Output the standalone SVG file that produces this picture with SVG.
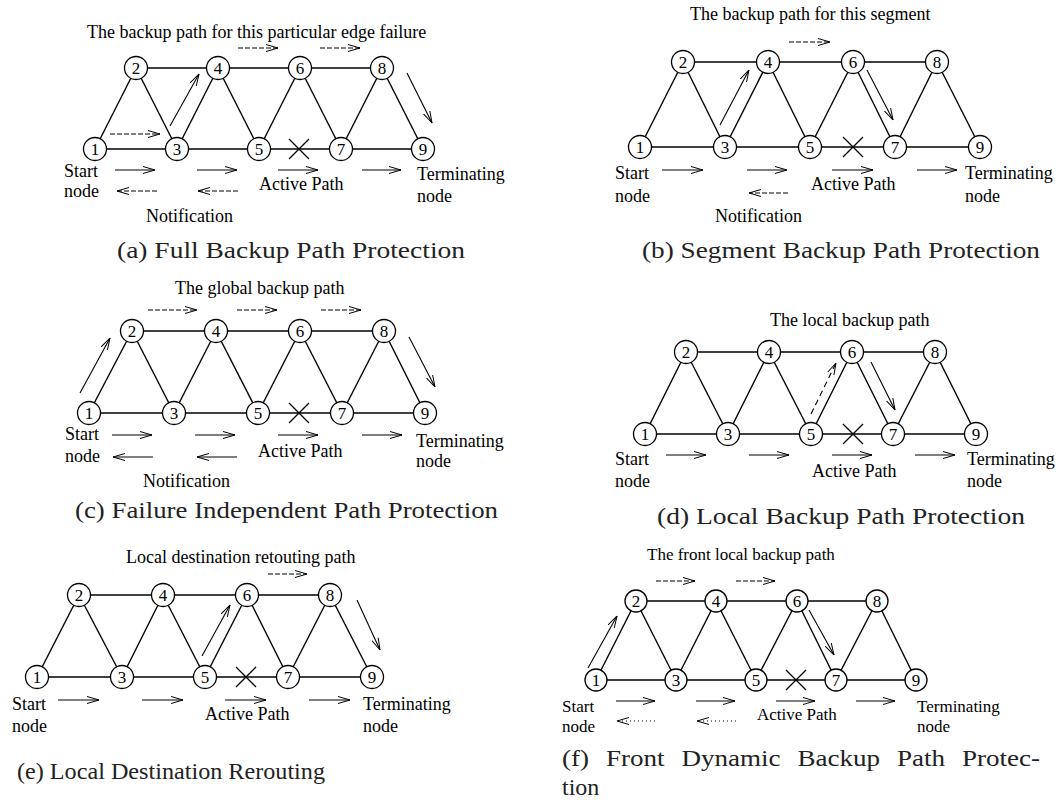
<svg xmlns="http://www.w3.org/2000/svg" width="1062" height="802" viewBox="0 0 1062 802">
<style>
.e line{stroke:#000;stroke-width:1.4}
.n circle{fill:#fff;stroke:#000;stroke-width:1.3}
.n text{font-family:"Liberation Serif",serif;font-size:17px;text-anchor:middle;fill:#000}
.a{stroke:#000;stroke-width:1.1;fill:none;marker-end:url(#ah)}
.d{stroke-dasharray:5 2}
.dl{stroke-dasharray:6 4}
.dt{stroke-dasharray:1 3}
.x{stroke:#000;stroke-width:1.3}
.lb{font-family:"Liberation Serif",serif;font-size:18px;fill:#000}
.lf{font-family:"Liberation Serif",serif;font-size:17px;fill:#000}
.cap{font-family:"Liberation Serif",serif;font-size:24px;fill:#222}
</style>
<defs>
<marker id="ah" viewBox="0 0 12 8" refX="12" refY="4" markerWidth="12" markerHeight="8" orient="auto" markerUnits="userSpaceOnUse">
<path d="M0,0.5 L12,4 L0,7.5" fill="none" stroke="#000" stroke-width="1" stroke-dasharray="none"/>
</marker>
</defs>

<!-- ===== Panel (a) ===== -->
<g id="panel-a">
<g id="a-edges" class="e">
<line x1="95" y1="149" x2="177" y2="149"/><line x1="177" y1="149" x2="259" y2="149"/><line x1="259" y1="149" x2="341" y2="149"/><line x1="341" y1="149" x2="423" y2="149"/>
<line x1="136" y1="68" x2="218" y2="68"/><line x1="218" y1="68" x2="300" y2="68"/><line x1="300" y1="68" x2="382" y2="68"/>
<line x1="95" y1="149" x2="136" y2="68"/><line x1="136" y1="68" x2="177" y2="149"/><line x1="177" y1="149" x2="218" y2="68"/><line x1="218" y1="68" x2="259" y2="149"/><line x1="259" y1="149" x2="300" y2="68"/><line x1="300" y1="68" x2="341" y2="149"/><line x1="341" y1="149" x2="382" y2="68"/><line x1="382" y1="68" x2="423" y2="149"/>
</g>
<g id="a-arrows">
<line class="a d" x1="238" y1="48" x2="278" y2="48"/><line class="a d" x1="320" y1="48" x2="360" y2="48"/>
<line class="a d" x1="110" y1="134" x2="160" y2="134"/>
<line class="a" x1="170" y1="126" x2="199" y2="74"/>
<line class="a" x1="407" y1="73" x2="432" y2="123"/>
<line class="a" x1="115" y1="170" x2="155" y2="170"/><line class="a" x1="197" y1="170" x2="237" y2="170"/><line class="a" x1="278" y1="170" x2="318" y2="170"/><line class="a" x1="362" y1="170" x2="401" y2="170"/>
<line class="a d" x1="157" y1="191" x2="117" y2="191"/><line class="a d" x1="238" y1="191" x2="198" y2="191"/>
<path class="x" d="M289,139 L309,159 M309,139 L289,159"/>
</g>
<g id="a-n1" class="n"><circle cx="95" cy="149" r="11.5"/><text x="95" y="155">1</text></g>
<g id="a-n2" class="n"><circle cx="136" cy="68" r="11.5"/><text x="136" y="74">2</text></g>
<g id="a-n3" class="n"><circle cx="177" cy="149" r="11.5"/><text x="177" y="155">3</text></g>
<g id="a-n4" class="n"><circle cx="218" cy="68" r="11.5"/><text x="218" y="74">4</text></g>
<g id="a-n5" class="n"><circle cx="259" cy="149" r="11.5"/><text x="259" y="155">5</text></g>
<g id="a-n6" class="n"><circle cx="300" cy="68" r="11.5"/><text x="300" y="74">6</text></g>
<g id="a-n7" class="n"><circle cx="341" cy="149" r="11.5"/><text x="341" y="155">7</text></g>
<g id="a-n8" class="n"><circle cx="382" cy="68" r="11.5"/><text x="382" y="74">8</text></g>
<g id="a-n9" class="n"><circle cx="423" cy="149" r="11.5"/><text x="423" y="155">9</text></g>
<text class="lb" x="87" y="38">The backup path for this particular edge failure</text>
<text class="lb" x="64" y="177">Start</text><text class="lb" x="64" y="197">node</text>
<text class="lb" x="259" y="190">Active Path</text>
<text class="lb" x="417" y="180">Terminating</text><text class="lb" x="417" y="202">node</text>
<text class="lb" x="146" y="222">Notification</text>
<text class="cap" x="117" y="258" textLength="348" lengthAdjust="spacingAndGlyphs">(a) Full Backup Path Protection</text>
</g>

<!-- ===== Panel (b) ===== -->
<g id="panel-b">
<g id="b-edges" class="e">
<line x1="640" y1="147" x2="725" y2="147"/><line x1="725" y1="147" x2="810" y2="147"/><line x1="810" y1="147" x2="895" y2="147"/><line x1="895" y1="147" x2="980" y2="147"/>
<line x1="683" y1="62" x2="768" y2="62"/><line x1="768" y1="62" x2="853" y2="62"/><line x1="853" y1="62" x2="937" y2="62"/>
<line x1="640" y1="147" x2="683" y2="62"/><line x1="683" y1="62" x2="725" y2="147"/><line x1="725" y1="147" x2="768" y2="62"/><line x1="768" y1="62" x2="810" y2="147"/><line x1="810" y1="147" x2="853" y2="62"/><line x1="853" y1="62" x2="895" y2="147"/><line x1="895" y1="147" x2="937" y2="62"/><line x1="937" y1="62" x2="980" y2="147"/>
</g>
<g id="b-arrows">
<line class="a d" x1="789" y1="42" x2="830" y2="42"/>
<line class="a" x1="720" y1="125" x2="749" y2="70"/>
<line class="a" x1="867" y1="70" x2="893" y2="120"/>
<line class="a" x1="662" y1="170" x2="703" y2="170"/><line class="a" x1="747" y1="170" x2="787" y2="170"/><line class="a" x1="832" y1="170" x2="873" y2="170"/><line class="a" x1="917" y1="170" x2="957" y2="170"/>
<line class="a d" x1="788" y1="193" x2="749" y2="193"/>
<path class="x" d="M843,137 L863,157 M863,137 L843,157"/>
</g>
<g id="b-n1" class="n"><circle cx="640" cy="147" r="11.5"/><text x="640" y="153">1</text></g>
<g id="b-n2" class="n"><circle cx="683" cy="62" r="11.5"/><text x="683" y="68">2</text></g>
<g id="b-n3" class="n"><circle cx="725" cy="147" r="11.5"/><text x="725" y="153">3</text></g>
<g id="b-n4" class="n"><circle cx="768" cy="62" r="11.5"/><text x="768" y="68">4</text></g>
<g id="b-n5" class="n"><circle cx="810" cy="147" r="11.5"/><text x="810" y="153">5</text></g>
<g id="b-n6" class="n"><circle cx="853" cy="62" r="11.5"/><text x="853" y="68">6</text></g>
<g id="b-n7" class="n"><circle cx="895" cy="147" r="11.5"/><text x="895" y="153">7</text></g>
<g id="b-n8" class="n"><circle cx="937" cy="62" r="11.5"/><text x="937" y="68">8</text></g>
<g id="b-n9" class="n"><circle cx="980" cy="147" r="11.5"/><text x="980" y="153">9</text></g>
<text class="lb" x="690" y="20">The backup path for this segment</text>
<text class="lb" x="615" y="179">Start</text><text class="lb" x="615" y="202">node</text>
<text class="lb" x="811" y="190">Active Path</text>
<text class="lb" x="965" y="179">Terminating</text><text class="lb" x="965" y="202">node</text>
<text class="lb" x="715" y="222">Notification</text>
<text class="cap" x="642" y="258" textLength="398" lengthAdjust="spacingAndGlyphs">(b) Segment Backup Path Protection</text>
</g>

<!-- ===== Panel (c) ===== -->
<g id="panel-c">
<g id="c-edges" class="e">
<line x1="89" y1="413" x2="174" y2="413"/><line x1="174" y1="413" x2="258" y2="413"/><line x1="258" y1="413" x2="342" y2="413"/><line x1="342" y1="413" x2="425" y2="413"/>
<line x1="132" y1="331" x2="216" y2="331"/><line x1="216" y1="331" x2="300" y2="331"/><line x1="300" y1="331" x2="384" y2="331"/>
<line x1="89" y1="413" x2="132" y2="331"/><line x1="132" y1="331" x2="174" y2="413"/><line x1="174" y1="413" x2="216" y2="331"/><line x1="216" y1="331" x2="258" y2="413"/><line x1="258" y1="413" x2="300" y2="331"/><line x1="300" y1="331" x2="342" y2="413"/><line x1="342" y1="413" x2="384" y2="331"/><line x1="384" y1="331" x2="425" y2="413"/>
</g>
<g id="c-arrows">
<line class="a d" x1="148" y1="310" x2="197" y2="310"/><line class="a d" x1="237" y1="310" x2="277" y2="310"/><line class="a d" x1="321" y1="310" x2="361" y2="310"/>
<line class="a" x1="80" y1="393" x2="110" y2="338"/>
<line class="a" x1="409" y1="337" x2="435" y2="387"/>
<line class="a" x1="112" y1="435" x2="152" y2="435"/><line class="a" x1="195" y1="435" x2="235" y2="435"/><line class="a" x1="278" y1="435" x2="318" y2="435"/><line class="a" x1="362" y1="435" x2="402" y2="435"/>
<line class="a" x1="153" y1="457" x2="113" y2="457"/><line class="a" x1="237" y1="457" x2="197" y2="457"/>
<path class="x" d="M289,403 L309,423 M309,403 L289,423"/>
</g>
<g id="c-n1" class="n"><circle cx="89" cy="413" r="11.5"/><text x="89" y="419">1</text></g>
<g id="c-n2" class="n"><circle cx="132" cy="331" r="11.5"/><text x="132" y="337">2</text></g>
<g id="c-n3" class="n"><circle cx="174" cy="413" r="11.5"/><text x="174" y="419">3</text></g>
<g id="c-n4" class="n"><circle cx="216" cy="331" r="11.5"/><text x="216" y="337">4</text></g>
<g id="c-n5" class="n"><circle cx="258" cy="413" r="11.5"/><text x="258" y="419">5</text></g>
<g id="c-n6" class="n"><circle cx="300" cy="331" r="11.5"/><text x="300" y="337">6</text></g>
<g id="c-n7" class="n"><circle cx="342" cy="413" r="11.5"/><text x="342" y="419">7</text></g>
<g id="c-n8" class="n"><circle cx="384" cy="331" r="11.5"/><text x="384" y="337">8</text></g>
<g id="c-n9" class="n"><circle cx="425" cy="413" r="11.5"/><text x="425" y="419">9</text></g>
<text class="lb" x="175" y="294">The global backup path</text>
<text class="lb" x="65" y="440">Start</text><text class="lb" x="65" y="462">node</text>
<text class="lb" x="258" y="457">Active Path</text>
<text class="lb" x="416" y="447">Terminating</text><text class="lb" x="416" y="467">node</text>
<text class="lb" x="143" y="487">Notification</text>
<text class="cap" x="75" y="518" textLength="423" lengthAdjust="spacingAndGlyphs">(c) Failure Independent Path Protection</text>
</g>

<!-- ===== Panel (d) ===== -->
<g id="panel-d">
<g id="d-edges" class="e">
<line x1="645" y1="434" x2="728" y2="434"/><line x1="728" y1="434" x2="811" y2="434"/><line x1="811" y1="434" x2="893" y2="434"/><line x1="893" y1="434" x2="976" y2="434"/>
<line x1="686" y1="352" x2="769" y2="352"/><line x1="769" y1="352" x2="852" y2="352"/><line x1="852" y1="352" x2="935" y2="352"/>
<line x1="645" y1="434" x2="686" y2="352"/><line x1="686" y1="352" x2="728" y2="434"/><line x1="728" y1="434" x2="769" y2="352"/><line x1="769" y1="352" x2="811" y2="434"/><line x1="811" y1="434" x2="852" y2="352"/><line x1="852" y1="352" x2="893" y2="434"/><line x1="893" y1="434" x2="935" y2="352"/><line x1="935" y1="352" x2="976" y2="434"/>
</g>
<g id="d-arrows">
<line class="a dl" x1="811" y1="414" x2="836" y2="363"/>
<line class="a" x1="871" y1="362" x2="895" y2="410"/>
<line class="a" x1="666" y1="455" x2="706" y2="455"/><line class="a" x1="749" y1="455" x2="789" y2="455"/><line class="a" x1="832" y1="455" x2="872" y2="455"/><line class="a" x1="915" y1="455" x2="955" y2="455"/>
<path class="x" d="M843,424 L863,444 M863,424 L843,444"/>
</g>
<g id="d-n1" class="n"><circle cx="645" cy="434" r="11.5"/><text x="645" y="440">1</text></g>
<g id="d-n2" class="n"><circle cx="686" cy="352" r="11.5"/><text x="686" y="358">2</text></g>
<g id="d-n3" class="n"><circle cx="728" cy="434" r="11.5"/><text x="728" y="440">3</text></g>
<g id="d-n4" class="n"><circle cx="769" cy="352" r="11.5"/><text x="769" y="358">4</text></g>
<g id="d-n5" class="n"><circle cx="811" cy="434" r="11.5"/><text x="811" y="440">5</text></g>
<g id="d-n6" class="n"><circle cx="852" cy="352" r="11.5"/><text x="852" y="358">6</text></g>
<g id="d-n7" class="n"><circle cx="893" cy="434" r="11.5"/><text x="893" y="440">7</text></g>
<g id="d-n8" class="n"><circle cx="935" cy="352" r="11.5"/><text x="935" y="358">8</text></g>
<g id="d-n9" class="n"><circle cx="976" cy="434" r="11.5"/><text x="976" y="440">9</text></g>
<text class="lb" x="770" y="326">The local backup path</text>
<text class="lb" x="615" y="465">Start</text><text class="lb" x="615" y="487">node</text>
<text class="lb" x="812" y="477">Active Path</text>
<text class="lb" x="967" y="465">Terminating</text><text class="lb" x="967" y="487">node</text>
<text class="cap" x="657" y="524" textLength="368" lengthAdjust="spacingAndGlyphs">(d) Local Backup Path Protection</text>
</g>

<!-- ===== Panel (e) ===== -->
<g id="panel-e">
<g id="e-edges" class="e">
<line x1="37" y1="677" x2="122" y2="677"/><line x1="122" y1="677" x2="205" y2="677"/><line x1="205" y1="677" x2="288" y2="677"/><line x1="288" y1="677" x2="372" y2="677"/>
<line x1="79" y1="595" x2="163" y2="595"/><line x1="163" y1="595" x2="247" y2="595"/><line x1="247" y1="595" x2="330" y2="595"/>
<line x1="37" y1="677" x2="79" y2="595"/><line x1="79" y1="595" x2="122" y2="677"/><line x1="122" y1="677" x2="163" y2="595"/><line x1="163" y1="595" x2="205" y2="677"/><line x1="205" y1="677" x2="247" y2="595"/><line x1="247" y1="595" x2="288" y2="677"/><line x1="288" y1="677" x2="330" y2="595"/><line x1="330" y1="595" x2="372" y2="677"/>
</g>
<g id="e-arrows">
<line class="a d" x1="268" y1="574" x2="307" y2="574"/>
<line class="a" x1="202" y1="656" x2="230" y2="605"/>
<line class="a" x1="357" y1="600" x2="380" y2="650"/>
<line class="a" x1="58" y1="700" x2="99" y2="700"/><line class="a" x1="142" y1="700" x2="183" y2="700"/><line class="a" x1="225" y1="700" x2="266" y2="700"/><line class="a" x1="309" y1="700" x2="350" y2="700"/>
<path class="x" d="M236,667 L256,687 M256,667 L236,687"/>
</g>
<g id="e-n1" class="n"><circle cx="37" cy="677" r="11.5"/><text x="37" y="683">1</text></g>
<g id="e-n2" class="n"><circle cx="79" cy="595" r="11.5"/><text x="79" y="601">2</text></g>
<g id="e-n3" class="n"><circle cx="122" cy="677" r="11.5"/><text x="122" y="683">3</text></g>
<g id="e-n4" class="n"><circle cx="163" cy="595" r="11.5"/><text x="163" y="601">4</text></g>
<g id="e-n5" class="n"><circle cx="205" cy="677" r="11.5"/><text x="205" y="683">5</text></g>
<g id="e-n6" class="n"><circle cx="247" cy="595" r="11.5"/><text x="247" y="601">6</text></g>
<g id="e-n7" class="n"><circle cx="288" cy="677" r="11.5"/><text x="288" y="683">7</text></g>
<g id="e-n8" class="n"><circle cx="330" cy="595" r="11.5"/><text x="330" y="601">8</text></g>
<g id="e-n9" class="n"><circle cx="372" cy="677" r="11.5"/><text x="372" y="683">9</text></g>
<text class="lb" x="126" y="563">Local destination retouting path</text>
<text class="lb" x="12" y="710">Start</text><text class="lb" x="12" y="732">node</text>
<text class="lb" x="205" y="720">Active Path</text>
<text class="lb" x="363" y="710">Terminating</text><text class="lb" x="363" y="732">node</text>
<text class="cap" x="17" y="779" textLength="308" lengthAdjust="spacingAndGlyphs">(e) Local Destination Rerouting</text>
</g>

<!-- ===== Panel (f) ===== -->
<g id="panel-f">
<g id="f-edges" class="e">
<line x1="596" y1="680" x2="676" y2="680"/><line x1="676" y1="680" x2="756" y2="680"/><line x1="756" y1="680" x2="836" y2="680"/><line x1="836" y1="680" x2="916" y2="680"/>
<line x1="636" y1="601" x2="716" y2="601"/><line x1="716" y1="601" x2="797" y2="601"/><line x1="797" y1="601" x2="877" y2="601"/>
<line x1="596" y1="680" x2="636" y2="601"/><line x1="636" y1="601" x2="676" y2="680"/><line x1="676" y1="680" x2="716" y2="601"/><line x1="716" y1="601" x2="756" y2="680"/><line x1="756" y1="680" x2="797" y2="601"/><line x1="797" y1="601" x2="836" y2="680"/><line x1="836" y1="680" x2="877" y2="601"/><line x1="877" y1="601" x2="916" y2="680"/>
</g>
<g id="f-arrows">
<line class="a d" x1="656" y1="581" x2="695" y2="581"/><line class="a d" x1="736" y1="581" x2="775" y2="581"/>
<line class="a" x1="588" y1="668" x2="617" y2="616"/>
<line class="a" x1="809" y1="610" x2="834" y2="655"/>
<line class="a" x1="616" y1="701" x2="655" y2="701"/><line class="a" x1="696" y1="701" x2="735" y2="701"/><line class="a" x1="776" y1="701" x2="815" y2="701"/><line class="a" x1="856" y1="701" x2="895" y2="701"/>
<line class="a dt" x1="655" y1="721" x2="617" y2="721"/><line class="a dt" x1="736" y1="721" x2="697" y2="721"/>
<path class="x" d="M786,670 L806,690 M806,670 L786,690"/>
</g>
<g id="f-n1" class="n"><circle cx="596" cy="680" r="11"/><text x="596" y="686">1</text></g>
<g id="f-n2" class="n"><circle cx="636" cy="601" r="11"/><text x="636" y="607">2</text></g>
<g id="f-n3" class="n"><circle cx="676" cy="680" r="11"/><text x="676" y="686">3</text></g>
<g id="f-n4" class="n"><circle cx="716" cy="601" r="11"/><text x="716" y="607">4</text></g>
<g id="f-n5" class="n"><circle cx="756" cy="680" r="11"/><text x="756" y="686">5</text></g>
<g id="f-n6" class="n"><circle cx="797" cy="601" r="11"/><text x="797" y="607">6</text></g>
<g id="f-n7" class="n"><circle cx="836" cy="680" r="11"/><text x="836" y="686">7</text></g>
<g id="f-n8" class="n"><circle cx="877" cy="601" r="11"/><text x="877" y="607">8</text></g>
<g id="f-n9" class="n"><circle cx="916" cy="680" r="11"/><text x="916" y="686">9</text></g>
<text class="lf" x="647" y="560">The front local backup path</text>
<text class="lf" x="562" y="712">Start</text><text class="lf" x="562" y="732">node</text>
<text class="lf" x="757" y="720">Active Path</text>
<text class="lf" x="917" y="712">Terminating</text><text class="lf" x="917" y="732">node</text>
<text class="cap" x="562" y="766" textLength="478" lengthAdjust="spacingAndGlyphs" word-spacing="9">(f) Front Dynamic Backup Path Protec-</text>
<text class="cap" x="562" y="795">tion</text>
</g>
</svg>
